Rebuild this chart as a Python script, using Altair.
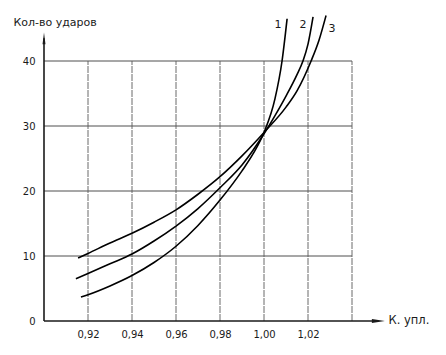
import altair as alt
import pandas as pd

# Curve data (x = К. упл., y = Кол-во ударов)
c1_x = [0.9168, 0.92, 0.93, 0.94, 0.95, 0.96, 0.97, 0.98, 0.99, 0.995, 1.00, 1.005, 1.0082, 1.0105]
c1_y = [3.7, 4.05, 5.4, 7.0, 9.0, 11.5, 14.7, 18.6, 23.1, 25.7, 29.0, 34.2, 40.0, 46.5]
c2_x = [0.9145, 0.92, 0.93, 0.94, 0.95, 0.96, 0.97, 0.98, 0.99, 1.00, 1.005, 1.01, 1.015, 1.0177, 1.02, 1.0223]
c2_y = [6.5, 7.3, 8.8, 10.3, 12.3, 14.6, 17.3, 20.5, 24.0, 28.8, 31.6, 34.6, 37.9, 40.0, 42.6, 46.8]
c3_x = [0.9155, 0.92, 0.93, 0.94, 0.95, 0.96, 0.97, 0.98, 0.99, 1.00, 1.01, 1.015, 1.0214, 1.025, 1.0282]
c3_y = [9.7, 10.4, 12.0, 13.5, 15.2, 17.1, 19.5, 22.2, 25.4, 29.0, 32.9, 35.4, 40.0, 43.2, 47.0]

curve_names = ["1", "2", "3"]
label_x = [1.0064, 1.0177, 1.0309]
label_y = [45.5, 45.5, 45.0]

x_ticks = [0.92, 0.94, 0.96, 0.98, 1.00, 1.02]
x_grid = [0.92, 0.94, 0.96, 0.98, 1.00, 1.02, 1.04]
y_ticks = [0, 10, 20, 30, 40]
y_grid = [10, 20, 30, 40]

rows = []
for name, xs_, ys_ in zip(curve_names, [c1_x, c2_x, c3_x], [c1_y, c2_y, c3_y]):
    for xv, yv in zip(xs_, ys_):
        rows.append({"curve": name, "x": xv, "y": yv})
curves = pd.DataFrame(rows)
labels = pd.DataFrame({"curve": curve_names, "x": label_x, "y": label_y})

FONT = "DejaVu Sans"
INK = "#1a1a1a"

xs = alt.Scale(domain=[0.90, 0.90 + 402 / 2200], nice=False, zero=False)
ys = alt.Scale(domain=[0, 316 / 6.5], nice=False, zero=False)

base_x_axis = alt.Axis(values=x_ticks, domain=False, ticks=False, grid=False,
                       labelExpr="replace(format(datum.value, '.2f'), '.', ',')",
                       labelFont=FONT, labelFontSize=10, labelColor=INK, labelPadding=8,
                       title="К. упл.", titleFont=FONT, titleFontSize=11.5,
                       titleFontWeight="normal", titleColor=INK, titleAlign="left",
                       titleBaseline="middle", titleX=344, titleY=-1)
base_y_axis = alt.Axis(values=y_ticks, domain=False, ticks=False, grid=False,
                       labelFont=FONT, labelFontSize=10, labelColor=INK, labelPadding=9,
                       title="Кол-во ударов", titleFont=FONT, titleFontSize=11,
                       titleFontWeight="normal", titleColor=INK, titleAngle=0,
                       titleAlign="left", titleBaseline="middle", titleX=-31, titleY=17)

hgrid = alt.Chart(pd.DataFrame({"y": y_grid, "x0": 0.90, "x1": 1.04})).mark_rule(
    color="#3a3a3a", strokeWidth=0.9
).encode(x=alt.X("x0:Q", scale=xs, axis=base_x_axis), x2="x1:Q",
         y=alt.Y("y:Q", scale=ys, axis=base_y_axis))

vgrid = alt.Chart(pd.DataFrame({"x": x_grid, "y0": 0, "y1": 40})).mark_rule(
    color="#5a5a5a", strokeWidth=0.9, strokeDash=[7, 1]
).encode(x=alt.X("x:Q", scale=xs), y=alt.Y("y0:Q", scale=ys), y2="y1:Q")

xaxis_line = alt.Chart(pd.DataFrame({"x0": [0.90], "x1": [1.052], "y": [0]})).mark_rule(
    color=INK, strokeWidth=1.6
).encode(x=alt.X("x0:Q", scale=xs), x2="x1:Q", y=alt.Y("y:Q", scale=ys))

yaxis_line = alt.Chart(pd.DataFrame({"x": [0.90], "y0": [0], "y1": [43.5]})).mark_rule(
    color=INK, strokeWidth=1.6
).encode(x=alt.X("x:Q", scale=xs), y=alt.Y("y0:Q", scale=ys), y2="y1:Q")

x_arrow = alt.Chart(pd.DataFrame({"x": [1.052], "y": [0]})).mark_point(
    shape="M -1 -0.3 L 1 0 L -1 0.3 Z", size=169, filled=True, color=INK, opacity=1
).encode(x=alt.X("x:Q", scale=xs), y=alt.Y("y:Q", scale=ys))

y_arrow = alt.Chart(pd.DataFrame({"x": [0.90], "y": [43.5]})).mark_point(
    shape="M -0.25 1 L 0 -1 L 0.25 1 Z", size=144, filled=True, color=INK, opacity=1
).encode(x=alt.X("x:Q", scale=xs), y=alt.Y("y:Q", scale=ys))

lines = alt.Chart(curves).mark_line(
    color="#000000", strokeWidth=1.6, interpolate="monotone"
).encode(x=alt.X("x:Q", scale=xs), y=alt.Y("y:Q", scale=ys), detail="curve:N",
         order="x:Q")

texts = alt.Chart(labels).mark_text(
    font=FONT, fontSize=11, color=INK, align="center", baseline="middle"
).encode(x=alt.X("x:Q", scale=xs), y=alt.Y("y:Q", scale=ys), text="curve:N")

chart = alt.layer(hgrid, vgrid, xaxis_line, yaxis_line, x_arrow, y_arrow, lines, texts).properties(
    width=402, height=316,
    autosize=alt.AutoSizeParams(type="none"),
    padding={"left": 44, "top": 5, "right": 0, "bottom": 34},
    background="white",
).configure_view(stroke=None)

chart.save("out.html", embed_options={"renderer": "svg", "actions": False})
